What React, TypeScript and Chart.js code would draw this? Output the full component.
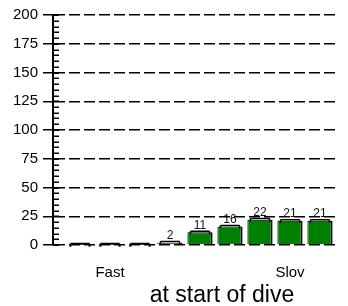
import React, { useEffect, useRef } from "react";
import { Chart, registerables } from "chart.js";

Chart.register(...registerables);

const categories = ["", "Fast", "", "", "", "", "", "Slov", ""];
const values = [0, 0, 0, 2, 11, 16, 22, 21, 21];
const errors = [1, 1, 1, 1, 1, 1, 1, 1, 1];
const yTicks = [0, 25, 50, 75, 100, 125, 150, 175, 200];
const labelledIndexes = [1, 7];
const minorStep = 5;
const xTitle = "at start of dive";

const FONT = "'Liberation Sans', Arial, sans-serif";

const decorPlugin = {
  id: "decor",
  afterDatasetsDraw(chart: any) {
    const ctx = chart.ctx;
    const y = chart.scales.y;
    const area = chart.chartArea;
    const meta = chart.getDatasetMeta(0);
    ctx.save();
    // minor ticks on the inside of the y axis
    ctx.strokeStyle = "#000";
    ctx.lineWidth = 1.5;
    for (let v = y.min; v <= y.max; v += minorStep) {
      const py = Math.round(y.getPixelForValue(v)) + 0.25;
      ctx.beginPath();
      ctx.moveTo(area.left, py);
      ctx.lineTo(area.left + 6, py);
      ctx.stroke();
    }
    // error bars
    meta.data.forEach((bar: any, i: number) => {
      const w = bar.width;
      const top = y.getPixelForValue(values[i] + errors[i]);
      const x1 = bar.x - w * 0.38;
      const x2 = bar.x + w * 0.38;
      ctx.lineWidth = values[i] === 0 ? 2 : 1.5;
      ctx.beginPath();
      ctx.moveTo(x1, top);
      ctx.lineTo(x2, top);
      ctx.moveTo(x1, top);
      ctx.lineTo(x1, top + 3);
      ctx.moveTo(x2, top);
      ctx.lineTo(x2, top + 3);
      ctx.stroke();
    });
    // value labels
    ctx.fillStyle = "#111";
    ctx.font = `12px ${FONT}`;
    ctx.textAlign = "center";
    ctx.textBaseline = "bottom";
    meta.data.forEach((bar: any, i: number) => {
      if (values[i] > 0) {
        ctx.fillText(String(values[i]), bar.x, bar.y - 1);
      }
    });
    // axis title
    ctx.fillStyle = "#000";
    ctx.font = `23px ${FONT}`;
    ctx.textBaseline = "alphabetic";
    ctx.fillText(xTitle, 222, 302);
    ctx.restore();
  },
};

export default function App() {
  const ref = useRef<HTMLCanvasElement | null>(null);
  useEffect(() => {
    document.body.style.margin = "0";
    const canvas = ref.current!;
    const chart = new Chart(canvas, {
      type: "bar",
      data: {
        datasets: [
          {
            data: values.map((v, i) => ({ x: i, y: v })),
            backgroundColor: "#008000",
            borderColor: "#000",
            borderWidth: { top: 1, left: 1, right: 2, bottom: 0 },
            borderSkipped: false,
            barPercentage: 0.84,
            categoryPercentage: 1,
          },
        ],
      },
      options: {
        animation: false,
        responsive: false,
        devicePixelRatio: 1,
        layout: { padding: { top: 15, right: 10, left: 0, bottom: 0 } },
        plugins: {
          legend: { display: false },
          tooltip: { enabled: false },
        },
        scales: {
          x: {
            type: "linear",
            offset: false,
            min: -0.9,
            max: 8.6,
            grid: { display: false, offset: false },
            border: { display: false },
            afterBuildTicks: (s: any) => {
              s.ticks = labelledIndexes.map((v) => ({ value: v }));
            },
            afterFit: (s: any) => {
              s.height = 61;
            },
            ticks: {
              callback: (v: any) => categories[v] ?? "",
              font: { family: FONT, size: 15 },
              color: "#000",
              padding: 11,
              maxRotation: 0,
              autoSkip: false,
            },
          },
          y: {
            min: 0,
            max: 200,
            afterBuildTicks: (s: any) => {
              s.ticks = yTicks.map((v) => ({ value: v }));
            },
            afterFit: (s: any) => {
              s.width = 53;
            },
            grid: {
              color: "#000",
              lineWidth: 1.5,
              tickLength: 10,
              drawTicks: true,
              tickBorderDash: [],
            },
            border: { display: true, color: "#000", width: 2, dash: [11, 4] },
            ticks: {
              font: { family: FONT, size: 15 },
              color: "#000",
              padding: 5,
            },
          },
        },
      },
      plugins: [decorPlugin],
    });
    return () => chart.destroy();
  }, []);
  return <canvas ref={ref} width={348} height={306} style={{ display: "block" }} />;
}
